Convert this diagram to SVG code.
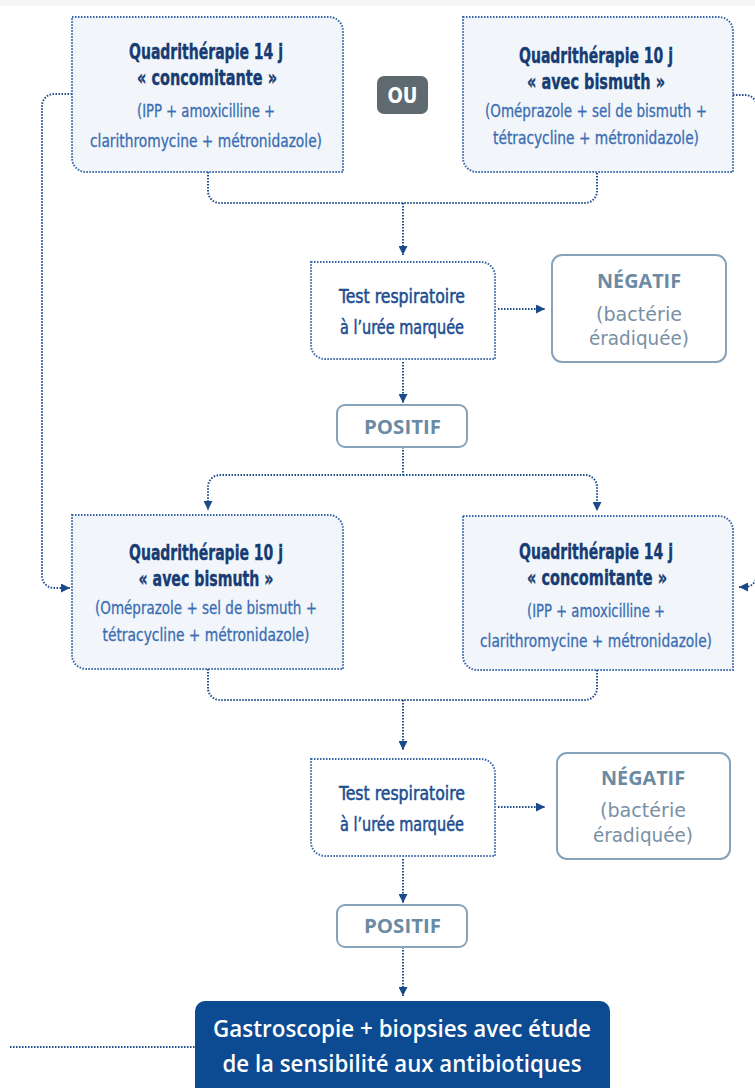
<svg xmlns="http://www.w3.org/2000/svg" width="755" height="1088" viewBox="0 0 755 1088">
<defs>
<marker id="arr" viewBox="0 0 10 10" refX="10" refY="5" markerWidth="9" markerHeight="9" markerUnits="userSpaceOnUse" orient="auto">
<path d="M0,0 L10,5 L0,10 Z" fill="#1b4a8a"/>
</marker>
<style>
.box{fill:#f2f6fa;stroke:#3565a8;stroke-width:2;stroke-dasharray:1.5 1.5}
.tbox{fill:#ffffff;stroke:#3565a8;stroke-width:2;stroke-dasharray:1.5 1.5}
.res{fill:#ffffff;stroke:#86a3ba;stroke-width:2}
.con{fill:none;stroke:#1f4e8c;stroke-width:2;stroke-dasharray:1.5 1.5}
.ttl{font-family:"DejaVu Sans Condensed","DejaVu Sans",sans-serif;font-weight:bold;font-size:22px;fill:#173c73;text-anchor:middle;stroke:#173c73;stroke-width:0.4}
.sub{font-family:"DejaVu Sans Condensed","DejaVu Sans",sans-serif;font-size:18px;fill:#3a6db3;text-anchor:middle;stroke:#3a6db3;stroke-width:0.3}
.tst{font-family:"DejaVu Sans Condensed","DejaVu Sans",sans-serif;font-size:19px;fill:#1c4d91;text-anchor:middle;stroke:#1c4d91;stroke-width:0.5}
.neg{font-family:"Open Sans","Noto Sans",sans-serif;font-size:20px;fill:#6b8aa3;text-anchor:middle}
.ngs{font-family:"DejaVu Sans","Liberation Sans",sans-serif;font-size:19px;fill:#7890a4;text-anchor:middle}
.gas{font-family:"Open Sans","Noto Sans",sans-serif;font-size:24px;fill:#ffffff;text-anchor:middle;font-weight:600}
</style>
</defs>
<rect x="0" y="0" width="755" height="6" fill="#f5f5f5"/>

<g id="connectors">
<path class="con" d="M72,94 H54 A12,12 0 0 0 42,106 V576 A12,12 0 0 0 54,588 H70" marker-end="url(#arr)"/>
<path class="con" d="M733,95 H745 A12,12 0 0 1 757,107 V575 A12,12 0 0 1 745,587 H739" marker-end="url(#arr)"/>
<path class="con" d="M208,172 V191 A12,12 0 0 0 220,203 H585 A12,12 0 0 0 597,191 V172"/>
<path class="con" d="M403,203 V255" marker-end="url(#arr)"/>
<path class="con" d="M498,309 H545" marker-end="url(#arr)"/>
<path class="con" d="M403,362 V403" marker-end="url(#arr)"/>
<path class="con" d="M403,447 V475 H220 A12,12 0 0 0 208,487 V510" marker-end="url(#arr)"/>
<path class="con" d="M403,475 H585 A12,12 0 0 1 597,487 V511" marker-end="url(#arr)"/>
<path class="con" d="M208,669 V688 A12,12 0 0 0 220,700 H585 A12,12 0 0 0 597,688 V670"/>
<path class="con" d="M403,700 V750" marker-end="url(#arr)"/>
<path class="con" d="M498,807 H545" marker-end="url(#arr)"/>
<path class="con" d="M403,859 V903" marker-end="url(#arr)"/>
<path class="con" d="M403,947 V996" marker-end="url(#arr)"/>
<path class="con" d="M10,1047 H195"/>
</g>

<g id="box-a">
<path class="box" d="M72,17 H329 A14,14 0 0 1 343,31 V172 H86 A14,14 0 0 1 72,158 Z"/>
<text class="ttl" x="206" y="59" textLength="154" lengthAdjust="spacingAndGlyphs">Quadrithérapie 14 j</text>
<text class="ttl" x="207" y="85" textLength="140" lengthAdjust="spacingAndGlyphs">« concomitante »</text>
<text class="sub" x="206" y="117" textLength="138" lengthAdjust="spacingAndGlyphs">(IPP + amoxicilline +</text>
<text class="sub" x="206" y="147" textLength="232" lengthAdjust="spacingAndGlyphs">clarithromycine + métronidazole)</text>
</g>

<g id="ou">
<rect x="377" y="76" width="51" height="38" rx="7" fill="#5e6a70"/>
<text x="402.5" y="103" font-family="DejaVu Sans Condensed,DejaVu Sans,sans-serif" font-weight="bold" font-size="22" fill="#ffffff" text-anchor="middle" textLength="30" lengthAdjust="spacingAndGlyphs">OU</text>
</g>

<g id="box-b">
<path class="box" d="M463,17 H719 A14,14 0 0 1 733,31 V172 H477 A14,14 0 0 1 463,158 Z"/>
<text class="ttl" x="596" y="63" textLength="154" lengthAdjust="spacingAndGlyphs">Quadrithérapie 10 j</text>
<text class="ttl" x="596" y="89" textLength="138" lengthAdjust="spacingAndGlyphs">« avec bismuth »</text>
<text class="sub" x="596" y="117" textLength="222" lengthAdjust="spacingAndGlyphs">(Oméprazole + sel de bismuth +</text>
<text class="sub" x="596" y="144" textLength="206" lengthAdjust="spacingAndGlyphs">tétracycline + métronidazole)</text>
</g>

<g id="test-1">
<path class="tbox" d="M311,262 H481 A14,14 0 0 1 495,276 V359 H325 A14,14 0 0 1 311,345 Z"/>
<text class="tst" x="402" y="303" textLength="126" lengthAdjust="spacingAndGlyphs">Test respiratoire</text>
<text class="tst" x="402" y="334" textLength="124" lengthAdjust="spacingAndGlyphs">à l’urée marquée</text>
</g>

<g id="negatif-1">
<rect class="res" x="552" y="255" width="174" height="107" rx="10"/>
<text class="neg" x="639" y="288" font-weight="bold" textLength="84" lengthAdjust="spacingAndGlyphs">NÉGATIF</text>
<text class="ngs" x="639" y="321" textLength="86" lengthAdjust="spacingAndGlyphs">(bactérie</text>
<text class="ngs" x="639" y="345" textLength="100" lengthAdjust="spacingAndGlyphs">éradiquée)</text>
</g>

<g id="positif-1">
<rect class="res" x="337" y="405" width="130" height="42" rx="8"/>
<text class="neg" x="402.5" y="434" font-weight="bold" textLength="77" lengthAdjust="spacingAndGlyphs">POSITIF</text>
</g>

<g id="box-c">
<path class="box" d="M72,515 H329 A14,14 0 0 1 343,529 V669 H86 A14,14 0 0 1 72,655 Z"/>
<text class="ttl" x="206" y="560" textLength="154" lengthAdjust="spacingAndGlyphs">Quadrithérapie 10 j</text>
<text class="ttl" x="206" y="586" textLength="135" lengthAdjust="spacingAndGlyphs">« avec bismuth »</text>
<text class="sub" x="206" y="614" textLength="222" lengthAdjust="spacingAndGlyphs">(Oméprazole + sel de bismuth +</text>
<text class="sub" x="206" y="641" textLength="207" lengthAdjust="spacingAndGlyphs">tétracycline + métronidazole)</text>
</g>

<g id="box-d">
<path class="box" d="M463,516 H719 A14,14 0 0 1 733,530 V670 H477 A14,14 0 0 1 463,656 Z"/>
<text class="ttl" x="596" y="559" textLength="154" lengthAdjust="spacingAndGlyphs">Quadrithérapie 14 j</text>
<text class="ttl" x="597" y="585" textLength="140" lengthAdjust="spacingAndGlyphs">« concomitante »</text>
<text class="sub" x="596" y="617" textLength="138" lengthAdjust="spacingAndGlyphs">(IPP + amoxicilline +</text>
<text class="sub" x="596" y="647" textLength="232" lengthAdjust="spacingAndGlyphs">clarithromycine + métronidazole)</text>
</g>

<g id="test-2">
<path class="tbox" d="M311,759 H481 A14,14 0 0 1 495,773 V856 H325 A14,14 0 0 1 311,842 Z"/>
<text class="tst" x="402" y="800" textLength="126" lengthAdjust="spacingAndGlyphs">Test respiratoire</text>
<text class="tst" x="402" y="831" textLength="124" lengthAdjust="spacingAndGlyphs">à l’urée marquée</text>
</g>

<g id="negatif-2">
<rect class="res" x="557" y="753" width="173" height="106" rx="10"/>
<text class="neg" x="643" y="785" font-weight="bold" textLength="84" lengthAdjust="spacingAndGlyphs">NÉGATIF</text>
<text class="ngs" x="643" y="817" textLength="86" lengthAdjust="spacingAndGlyphs">(bactérie</text>
<text class="ngs" x="643" y="842" textLength="100" lengthAdjust="spacingAndGlyphs">éradiquée)</text>
</g>

<g id="positif-2">
<rect class="res" x="337" y="905" width="130" height="42" rx="8"/>
<text class="neg" x="402.5" y="933" font-weight="bold" textLength="77" lengthAdjust="spacingAndGlyphs">POSITIF</text>
</g>

<g id="gastroscopie">
<rect x="195" y="1001" width="415" height="100" rx="10" fill="#0c4a91"/>
<text class="gas" x="402" y="1037" textLength="378" lengthAdjust="spacingAndGlyphs">Gastroscopie + biopsies avec étude</text>
<text class="gas" x="402" y="1072" textLength="359" lengthAdjust="spacingAndGlyphs">de la sensibilité aux antibiotiques</text>
</g>
</svg>
